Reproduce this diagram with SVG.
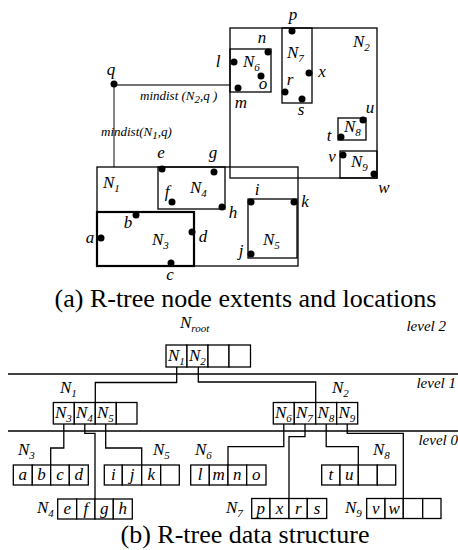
<svg xmlns="http://www.w3.org/2000/svg" width="458" height="550" viewBox="0 0 458 550">
<style>
text{font-family:"Liberation Serif","Times New Roman",serif;fill:#000}
.i{font-style:italic;font-size:17px}
.c{text-anchor:middle}
.s{font-size:11px}
.sm{font-style:italic;font-size:13px}
.lv{font-style:italic;font-size:15px;text-anchor:end}
.cap{font-size:26px;text-anchor:middle}
.box{fill:none;stroke:#000;stroke-width:1.3}
.thick{fill:none;stroke:#000;stroke-width:2.2}
.md{fill:none;stroke:#444;stroke-width:1.3}
.dot{fill:#000}
.cell{fill:#fff;stroke:#000;stroke-width:1.3}
.conn{fill:none;stroke:#000;stroke-width:1.3}
.lvl{stroke:#000;stroke-width:1.4}
</style>

<!-- (a) spatial extents -->
<g id="mindist">
<line class="md" x1="114" y1="85" x2="230" y2="85"/>
<line class="md" x1="114" y1="85" x2="114" y2="167"/>
<text class="sm" x="140" y="100">mindist (N<tspan class="s" dy="3">2</tspan><tspan dy="-3">,q )</tspan></text>
<text class="sm" x="101" y="136">mindist(N<tspan class="s" dy="3">1</tspan><tspan dy="-3">,q)</tspan></text>
<circle class="dot" cx="114" cy="84" r="3.5"/>
<text class="i c" x="111" y="75">q</text>
</g>
<g id="N2">
<rect class="box" x="230" y="28" width="147" height="150"/>
<text class="i" x="353" y="47">N<tspan class="s" dy="4">2</tspan></text>
</g>
<g id="N6">
<rect class="box" x="230" y="49" width="41" height="43"/>
<text class="i" x="243" y="67">N<tspan class="s" dy="4">6</tspan></text>
<circle class="dot" cx="234" cy="62" r="3.5"/><text class="i c" x="218" y="67">l</text>
<circle class="dot" cx="268" cy="52" r="3.5"/><text class="i c" x="262" y="43">n</text>
<circle class="dot" cx="261" cy="76" r="3.5"/><text class="i c" x="263" y="89">o</text>
<circle class="dot" cx="238" cy="88" r="3.5"/><text class="i c" x="241" y="108">m</text>
</g>
<g id="N7">
<rect class="box" x="282" y="28" width="30" height="75"/>
<text class="i" x="287" y="58">N<tspan class="s" dy="4">7</tspan></text>
<circle class="dot" cx="292" cy="31" r="3.5"/><text class="i c" x="293" y="20">p</text>
<circle class="dot" cx="309" cy="73" r="3.5"/><text class="i c" x="322" y="77">x</text>
<circle class="dot" cx="285" cy="92" r="3.5"/><text class="i c" x="290" y="85">r</text>
<circle class="dot" cx="302" cy="99" r="3.5"/><text class="i c" x="301" y="115">s</text>
</g>
<g id="N8">
<rect class="box" x="338" y="118" width="28" height="22"/>
<text class="i" x="344" y="132">N<tspan class="s" dy="4">8</tspan></text>
<circle class="dot" cx="363" cy="120" r="3.5"/><text class="i c" x="370" y="113">u</text>
<circle class="dot" cx="341" cy="137" r="3.5"/><text class="i c" x="329" y="141">t</text>
</g>
<g id="N9">
<rect class="box" x="340" y="151" width="37" height="27"/>
<text class="i" x="351" y="167">N<tspan class="s" dy="4">9</tspan></text>
<circle class="dot" cx="343" cy="155" r="3.5"/><text class="i c" x="332" y="162">v</text>
<circle class="dot" cx="374" cy="174" r="3.5"/><text class="i c" x="384" y="193">w</text>
</g>
<g id="N1">
<rect class="box" x="97" y="167" width="201" height="99"/>
<text class="i" x="103" y="188">N<tspan class="s" dy="4">1</tspan></text>
</g>
<g id="N4">
<rect class="box" x="158" y="167" width="67" height="42"/>
<text class="i" x="190" y="193">N<tspan class="s" dy="4">4</tspan></text>
<circle class="dot" cx="162" cy="169" r="3.5"/><text class="i c" x="161" y="158">e</text>
<circle class="dot" cx="214" cy="172" r="3.5"/><text class="i c" x="213" y="158">g</text>
<circle class="dot" cx="172" cy="202" r="3.5"/><text class="i c" x="167" y="197">f</text>
<circle class="dot" cx="222" cy="207" r="3.5"/><text class="i c" x="233" y="218">h</text>
</g>
<g id="N3">
<rect class="thick" x="97" y="212" width="97" height="54"/>
<text class="i" x="152" y="245">N<tspan class="s" dy="4">3</tspan></text>
<circle class="dot" cx="136" cy="215" r="3.5"/><text class="i c" x="128" y="228">b</text>
<circle class="dot" cx="101" cy="238" r="3.5"/><text class="i c" x="90" y="243">a</text>
<circle class="dot" cx="192" cy="232" r="3.5"/><text class="i c" x="203" y="242">d</text>
<circle class="dot" cx="171" cy="263" r="3.5"/><text class="i c" x="170" y="280">c</text>
</g>
<g id="N5">
<rect class="box" x="248" y="199" width="49" height="59"/>
<text class="i" x="263" y="245">N<tspan class="s" dy="4">5</tspan></text>
<circle class="dot" cx="251" cy="202" r="3.5"/><text class="i c" x="257" y="195">i</text>
<circle class="dot" cx="294" cy="202" r="3.5"/><text class="i c" x="305" y="207">k</text>
<circle class="dot" cx="251" cy="254" r="3.5"/><text class="i c" x="241" y="256">j</text>
</g>
<text class="cap" x="245.5" y="307">(a) R-tree node extents and locations</text>

<!-- (b) data structure -->
<g id="levels">
<line class="lvl" x1="8" y1="374" x2="458" y2="374"/>
<line class="lvl" x1="8" y1="431" x2="458" y2="431"/>
<text class="lv" x="446" y="331">level 2</text>
<text class="lv" x="456" y="388">level 1</text>
<text class="lv" x="458" y="445">level 0</text>
</g>

<g id="connectors">
<polyline class="conn" points="176.7,367 176.7,382.5 95.3,382.5 95.3,402.5"/>
<polyline class="conn" points="198.3,367 198.3,382 315.7,382 315.7,402.5"/>
<polyline class="conn" points="63.8,424 63.8,448 50.7,448 50.7,465"/>
<polyline class="conn" points="84.8,424 84.8,433.3 95,433.3 95,499"/>
<polyline class="conn" points="105.7,424 105.7,448 141.7,448 141.7,465"/>
<polyline class="conn" points="283.8,424 283.8,446.7 228,446.7 228,465"/>
<polyline class="conn" points="305,424 305,436.7 289,436.7 289,498.5"/>
<polyline class="conn" points="326.2,424 326.2,446.7 358.3,446.7 358.3,465"/>
<polyline class="conn" points="347.2,424 347.2,433.3 403.3,433.3 403.3,498.5"/>
</g>

<g id="Nroot">
<text class="i" x="180" y="328">N<tspan class="s" dy="4">root</tspan></text>
<rect class="cell" x="166" y="345" width="21" height="22"/>
<rect class="cell" x="187" y="345" width="21" height="22"/>
<rect class="cell" x="208" y="345" width="21" height="22"/>
<rect class="cell" x="229" y="345" width="21.5" height="22"/>
<text class="i" x="168" y="361">N<tspan class="s" dy="4">1</tspan></text>
<text class="i" x="189" y="361">N<tspan class="s" dy="4">2</tspan></text>
</g>

<g id="tN1">
<text class="i" x="60" y="393">N<tspan class="s" dy="4">1</tspan></text>
<rect class="cell" x="53.3" y="402.5" width="21" height="21.5"/>
<rect class="cell" x="74.3" y="402.5" width="21" height="21.5"/>
<rect class="cell" x="95.3" y="402.5" width="21" height="21.5"/>
<rect class="cell" x="116.3" y="402.5" width="20.7" height="21.5"/>
<text class="i" x="55" y="418">N<tspan class="s" dy="4">3</tspan></text>
<text class="i" x="76" y="418">N<tspan class="s" dy="4">4</tspan></text>
<text class="i" x="97" y="418">N<tspan class="s" dy="4">5</tspan></text>
</g>

<g id="tN2">
<text class="i" x="332" y="393">N<tspan class="s" dy="4">2</tspan></text>
<rect class="cell" x="273.3" y="402.5" width="21" height="21.5"/>
<rect class="cell" x="294.3" y="402.5" width="21.4" height="21.5"/>
<rect class="cell" x="315.7" y="402.5" width="21" height="21.5"/>
<rect class="cell" x="336.7" y="402.5" width="21" height="21.5"/>
<text class="i" x="275" y="418">N<tspan class="s" dy="4">6</tspan></text>
<text class="i" x="296" y="418">N<tspan class="s" dy="4">7</tspan></text>
<text class="i" x="317.5" y="418">N<tspan class="s" dy="4">8</tspan></text>
<text class="i" x="338.5" y="418">N<tspan class="s" dy="4">9</tspan></text>
</g>

<g id="tN3">
<text class="i" x="18" y="455">N<tspan class="s" dy="4">3</tspan></text>
<rect class="cell" x="13.3" y="465" width="19" height="20"/>
<rect class="cell" x="32.3" y="465" width="18.4" height="20"/>
<rect class="cell" x="50.7" y="465" width="18.6" height="20"/>
<rect class="cell" x="69.3" y="465" width="19" height="20"/>
<text class="i c" x="22.8" y="480">a</text>
<text class="i c" x="41.5" y="480">b</text>
<text class="i c" x="60" y="480">c</text>
<text class="i c" x="78.8" y="480">d</text>
</g>

<g id="tN5">
<text class="i" x="153" y="455">N<tspan class="s" dy="4">5</tspan></text>
<rect class="cell" x="104.3" y="465" width="18" height="20"/>
<rect class="cell" x="122.3" y="465" width="19.4" height="20"/>
<rect class="cell" x="141.7" y="465" width="19" height="20"/>
<rect class="cell" x="160.7" y="465" width="18.6" height="20"/>
<text class="i c" x="113.3" y="480">i</text>
<text class="i c" x="132" y="480">j</text>
<text class="i c" x="151.2" y="480">k</text>
</g>

<g id="tN6">
<text class="i" x="195" y="455">N<tspan class="s" dy="4">6</tspan></text>
<rect class="cell" x="190.7" y="465" width="18.6" height="20"/>
<rect class="cell" x="209.3" y="465" width="18.7" height="20"/>
<rect class="cell" x="228" y="465" width="18.7" height="20"/>
<rect class="cell" x="246.7" y="465" width="19.3" height="20"/>
<text class="i c" x="200" y="480">l</text>
<text class="i c" x="218.6" y="480">m</text>
<text class="i c" x="237.3" y="480">n</text>
<text class="i c" x="256.3" y="480">o</text>
</g>

<g id="tN8">
<text class="i" x="373" y="455">N<tspan class="s" dy="4">8</tspan></text>
<rect class="cell" x="321.7" y="465" width="18.3" height="20"/>
<rect class="cell" x="340" y="465" width="18.3" height="20"/>
<rect class="cell" x="358.3" y="465" width="19" height="20"/>
<rect class="cell" x="377.3" y="465" width="18.4" height="20"/>
<text class="i c" x="330.8" y="480">t</text>
<text class="i c" x="349.2" y="480">u</text>
</g>

<g id="tN4">
<text class="i" x="37" y="513">N<tspan class="s" dy="4">4</tspan></text>
<rect class="cell" x="57.7" y="499" width="19" height="20"/>
<rect class="cell" x="76.7" y="499" width="18.3" height="20"/>
<rect class="cell" x="95" y="499" width="18.3" height="20"/>
<rect class="cell" x="113.3" y="499" width="19" height="20"/>
<text class="i c" x="67.2" y="514">e</text>
<text class="i c" x="85.8" y="514">f</text>
<text class="i c" x="104.2" y="514">g</text>
<text class="i c" x="122.8" y="514">h</text>
</g>

<g id="tN7">
<text class="i" x="226" y="513">N<tspan class="s" dy="4">7</tspan></text>
<rect class="cell" x="251.7" y="498.5" width="18.3" height="20"/>
<rect class="cell" x="270" y="498.5" width="19" height="20"/>
<rect class="cell" x="289" y="498.5" width="18.3" height="20"/>
<rect class="cell" x="307.3" y="498.5" width="19.4" height="20"/>
<text class="i c" x="260.8" y="514">p</text>
<text class="i c" x="279.5" y="514">x</text>
<text class="i c" x="298.2" y="514">r</text>
<text class="i c" x="317" y="514">s</text>
</g>

<g id="tN9">
<text class="i" x="345" y="513">N<tspan class="s" dy="4">9</tspan></text>
<rect class="cell" x="366.7" y="498.5" width="18.3" height="20"/>
<rect class="cell" x="385" y="498.5" width="18.3" height="20"/>
<rect class="cell" x="403.3" y="498.5" width="19.4" height="20"/>
<rect class="cell" x="422.7" y="498.5" width="18.3" height="20"/>
<text class="i c" x="375.8" y="514">v</text>
<text class="i c" x="394.2" y="514">w</text>
</g>

<text class="cap" x="245" y="543">(b) R-tree data structure</text>
</svg>
